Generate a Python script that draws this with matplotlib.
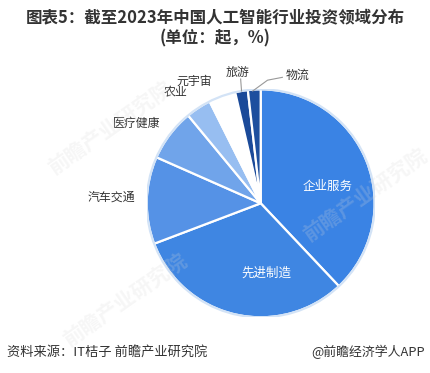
import matplotlib
matplotlib.use("Agg")
import matplotlib.pyplot as plt
from matplotlib.patches import Circle

plt.rcParams['font.family'] = ['Noto Sans CJK SC', 'DejaVu Sans']

# Investment share by field (%), clockwise from 12 o'clock
categories = ['企业服务', '先进制造', '汽车交通', '医疗健康', '农业', '元宇宙', '旅游', '物流']
shares = [38.0, 31.3, 12.4, 7.4, 3.6, 3.8, 1.8, 1.8]
colors = ['#3a83e4', '#3f86e2', '#5592e6', '#70a4ea', '#97bef1', '#ffffff', '#1b4a99', '#1d4f9e']

title_lines = ['图表5：截至2023年中国人工智能行业投资领域分布', '(单位：起，%)']
source_text = '资料来源：IT桔子 前瞻产业研究院'
credit_text = '@前瞻经济学人APP'
watermark_text = '前瞻产业研究院'

W, H = 431, 373
fig = plt.figure(figsize=(W / 100, H / 100), dpi=100)
fig.patch.set_facecolor('white')

# pie axes: centre (261, 203) px, radius 114 px
cx, cy, R = 260.7, 203.3, 114
ax = fig.add_axes([(cx - R) / W, (H - cy - R) / H, 2 * R / W, 2 * R / H])
ax.set_xlim(-1, 1)
ax.set_ylim(-1, 1)
ax.set_aspect('equal')
ax.axis('off')

wedges, _ = ax.pie(shares, colors=colors, startangle=90, counterclock=False,
                   radius=1.0, center=(0, 0),
                   wedgeprops=dict(edgecolor='white', linewidth=1.6))
ax.add_patch(Circle((0, 0), 1.0, fill=False, edgecolor='#d3e3f6', linewidth=1.6))
ax.set_xlim(-1, 1)
ax.set_ylim(-1, 1)

# label placement (axes data units)
inside = {'企业服务': (0.59, 0.15), '先进制造': (0.05, -0.61)}
outside = {'汽车交通': (-1.31, 0.05), '医疗健康': (-1.09, 0.70), '农业': (-0.75, 0.97),
           '元宇宙': (-0.58, 1.07), '旅游': (-0.205, 1.15), '物流': (0.32, 1.12)}

for name, (x, y) in inside.items():
    ax.text(x, y, name, color='white', fontsize=9, ha='center', va='center', clip_on=False)
for name, (x, y) in outside.items():
    ax.text(x, y, name, color='#333333', fontsize=8.6, ha='center', va='center', clip_on=False)

# leader lines for the two thin dark slices
ax.plot([-0.168, -0.176], [0.985, 1.09], color='#999999', lw=0.8, clip_on=False)
ax.plot([-0.07, 0.06, 0.19], [0.985, 1.08, 1.105], color='#999999', lw=0.8, clip_on=False)

# faint diagonal watermarks over everything
for (px, py) in [(110, 128), (125, 300), (365, 195)]:
    fig.text(px / W, 1 - py / H, watermark_text, ha='center', va='center', fontsize=15,
             fontweight='bold', rotation=35, color='#d8d8d8', alpha=0.22, zorder=10)

# titles
fig.text(0.5, 1 - 18 / H, title_lines[0], ha='center', va='center', fontsize=11.9,
         fontweight='bold', color='#333333')
fig.text(0.5, 1 - 38 / H, title_lines[1], ha='center', va='center', fontsize=11.9,
         fontweight='bold', color='#333333')

# footer
fig.text(7 / W, 1 - 352 / H, source_text, ha='left', va='center', fontsize=9.5, color='#333333')
fig.text(425 / W, 1 - 352 / H, credit_text, ha='right', va='center', fontsize=9.3, color='#333333')

fig.savefig('out.png', dpi=100, facecolor='white')
